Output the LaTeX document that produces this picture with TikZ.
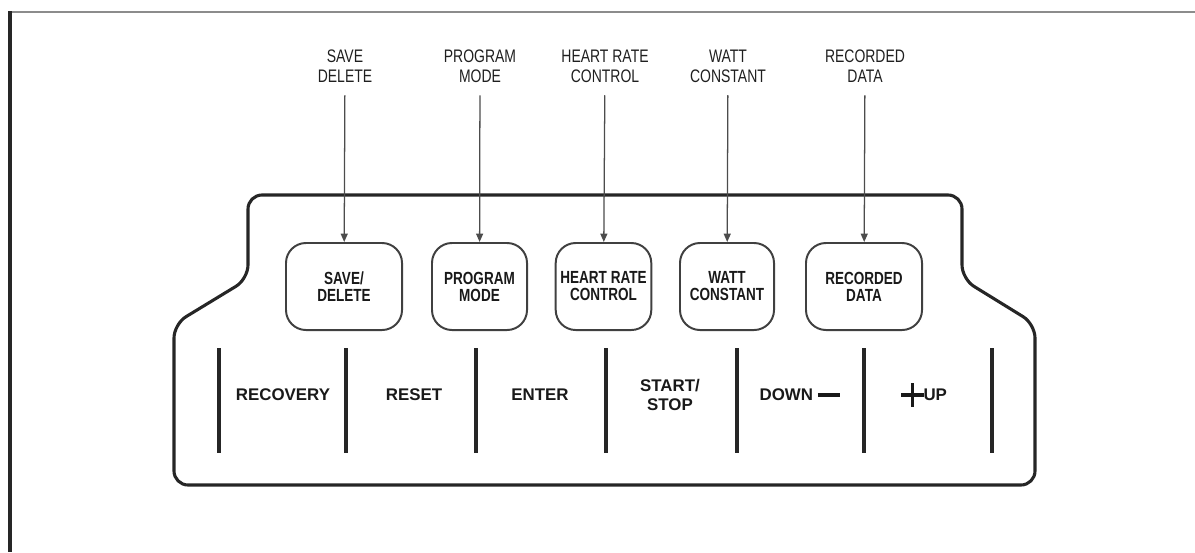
\documentclass[tikz,border=0pt]{standalone}
\usepackage{fontspec}
\setmainfont{Liberation Sans}
\newfontfamily\narrowfont[FakeStretch=0.77]{Liberation Sans}
\usepackage{tikz}
\usetikzlibrary{arrows.meta, positioning}

% thick plus sign of the UP key
\newcommand{\plussign}{\rlap{\rule[3.1pt]{16pt}{2.4pt}}\hspace{6.8pt}\rule[-4pt]{2.4pt}{16.5pt}\hspace{6.8pt}}

\begin{document}
\begin{tikzpicture}[x=0.025cm, y=-0.025cm,
    callout/.style={align=center, font=\narrowfont\fontsize{12.9}{14.2}\selectfont, text=black!88, inner sep=2pt},
    button/.style={rectangle, rounded corners=0.5cm, draw=black!75, line width=1.4pt, minimum width=#1, minimum height=2.175cm, align=center, font=\narrowfont\bfseries\fontsize{12.5}{12.1}\selectfont, text=black!90},
    key/.style={align=center, font=\bfseries\fontsize{12}{13.5}\selectfont, text=black!90},
    arrow/.style={-{Triangle[length=6pt,width=5pt]}, draw=black!70, line width=0.9pt, shorten <=7pt},
    divider/.style={line width=2.8pt, draw=black!85}
]
\useasboundingbox (0,0) rectangle (1195,552);

% frame
\draw[line width=1.9pt, black!45] (10,12) -- (1195,12);
\draw[line width=2.6pt, black!85] (10,11) -- (10,552);

% console outline
\draw[line width=2.2pt, black!85, rounded corners=0.35cm]
    (174,485) -- (174,324) -- (248,279) -- (248,195) -- (962,195)
    -- (962,279) -- (1035,324) -- (1035,485) -- cycle;

% upper buttons
\node[button=2.9cm]   (btn-save)  at (344,286.5) {SAVE/\\DELETE};
\node[button=2.375cm] (btn-prog)  at (479.5,286.5) {PROGRAM\\MODE};
\node[button=2.375cm] (btn-heart) at (603.5,286.5) {HEART RATE\\CONTROL};
\node[button=2.35cm]  (btn-watt)  at (727,286.5) {WATT\\CONSTANT};
\node[button=2.9cm]   (btn-rec)   at (864,286.5) {RECORDED\\DATA};

% callouts
\node[callout] (lbl-save)  at (345,66) {SAVE\\DELETE};
\node[callout] (lbl-prog)  at (480,66) {PROGRAM\\MODE};
\node[callout] (lbl-heart) at (605,66) {HEART RATE\\CONTROL};
\node[callout] (lbl-watt)  at (728,66) {WATT\\CONSTANT};
\node[callout] (lbl-rec)   at (865,66) {RECORDED\\DATA};

\draw[arrow] (lbl-save)  -- (btn-save);
\draw[arrow] (lbl-prog)  -- (btn-prog);
\draw[arrow] (lbl-heart) -- (btn-heart);
\draw[arrow] (lbl-watt)  -- (btn-watt);
\draw[arrow] (lbl-rec)   -- (btn-rec);

% lower keys
\foreach \x in {219,346,476,606,737,864,992}
    \draw[divider] (\x,348) -- (\x,453);

\node[key] (key-recovery) at (283,395) {RECOVERY};
\node[key] (key-reset)    at (414,395) {RESET};
\node[key] (key-enter)    at (540,395) {ENTER};
\node[key] (key-start)    at (670,395) {START/\\STOP};
\node[key] (key-down)     at (800,395) {DOWN\hspace{3.5pt}\rule[2.9pt]{16pt}{3pt}};
\node[key] (key-up)       at (924,395) {\plussign UP};
\end{tikzpicture}
\end{document}
